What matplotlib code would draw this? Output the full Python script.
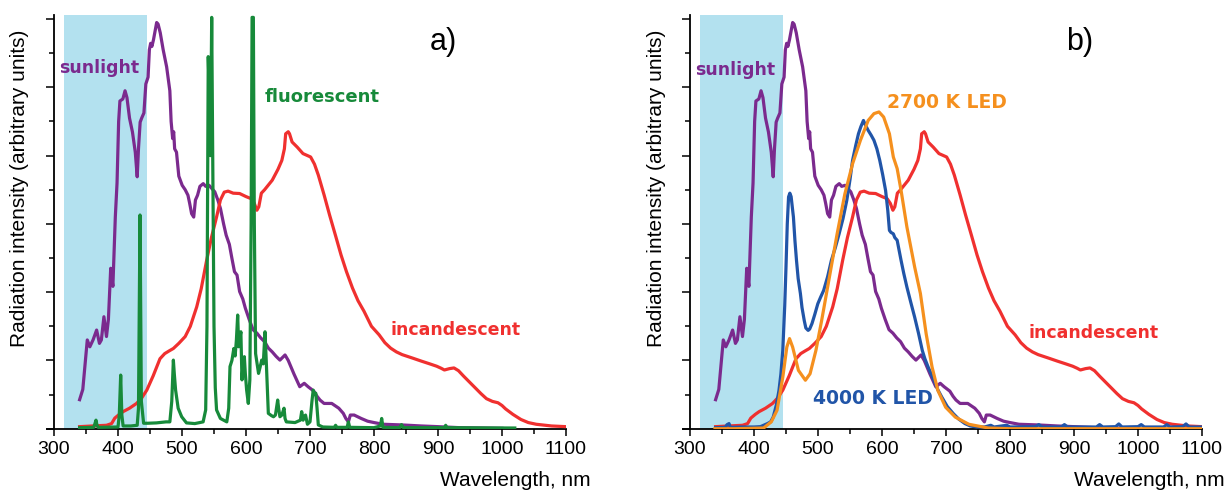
import matplotlib
matplotlib.use("Agg")
import matplotlib.pyplot as plt
from matplotlib.ticker import MultipleLocator

# ---------------- data ----------------
sun_nm = [340, 345, 352, 356, 361, 366.6, 371, 374, 378, 382, 385, 388.6, 392, 395.8, 398.5, 401, 403,
          407.6, 411, 414, 418, 422.6, 427, 430, 432, 434.6, 437, 440.5, 443.5, 447, 449, 451, 453,
          455.5, 460.4, 462.7, 466, 470.6, 476, 481, 483, 485.4, 487, 488.5, 491.4, 495, 500.3, 505,
          509.3, 512, 515, 518.3, 521, 524.3, 528, 533.2, 537, 542.2, 546, 551.2, 556, 560.1, 565,
          569, 574, 578, 582, 586, 590, 595, 599, 605, 611, 617, 623, 629, 635, 641, 647, 653, 661,
          666, 675, 684, 691, 697, 706, 711, 715.6, 722, 734, 745, 752, 756, 760, 763, 769, 780, 790,
          800, 814, 844, 874, 900, 934, 1000]
sun_val = [0.85, 1.15, 2.6, 2.4, 2.6, 2.89, 2.5, 2.6, 3.28, 2.7, 3.2, 4.7, 4.17, 6.2, 7.2, 9.0, 9.6,
           9.66, 9.9, 9.7, 9.1, 8.69, 8.1, 7.38, 8.2, 8.98, 9.1, 9.25, 10.1, 10.3, 11.1, 11.29, 11.2,
           11.4, 11.9, 11.85, 11.6, 11.1, 10.6, 9.9, 9.0, 8.5, 8.7, 8.2, 8.1, 7.4, 7.13, 7.0,
           6.84, 6.6, 6.3, 6.2, 6.7, 6.84, 7.1, 7.18, 7.1, 7.13, 7.05, 6.94, 6.7, 6.45, 6.0,
           5.67, 5.4, 4.99, 4.6, 4.5, 4.02, 3.8, 3.53, 3.2, 2.9, 2.8, 2.66, 2.55, 2.36, 2.25, 2.12, 2.01, 2.16,
           2.0, 1.6, 1.23, 1.33, 1.23, 1.1, 0.95, 0.84, 0.74, 0.74, 0.6, 0.45, 0.3, 0.2, 0.4, 0.4, 0.3, 0.22,
           0.18, 0.13, 0.11, 0.08, 0.06, 0.03, 0.01]

inc_nm = [340, 360, 382, 390, 395, 402, 408, 418, 429, 437, 445, 455, 465.6, 473, 480, 486.5, 495, 505,
          513, 523, 530, 538.6, 546, 554, 560, 566, 572, 580, 590, 600, 608, 613, 617, 620, 624, 629,
          641, 650, 656, 660, 662, 666, 668, 672, 680, 689, 701, 707, 713, 722, 730.6, 740, 748.5, 757,
          766.4, 775, 784.4, 796, 808, 817, 826, 835, 844, 860, 874, 887, 898, 905, 910, 918, 925, 932,
          940, 949, 958, 967, 975.7, 985, 993.7, 1000, 1005.6, 1017, 1029.6, 1041, 1053.5, 1077.4, 1100]
inc_val = [0.06, 0.08, 0.1, 0.15, 0.31, 0.42, 0.5, 0.6, 0.74, 0.9, 1.13, 1.55, 2.05, 2.2, 2.28, 2.35,
           2.5, 2.7, 3.0, 3.57, 4.1, 4.94, 5.6, 6.2, 6.7, 6.93, 6.96, 6.9, 6.89, 6.8, 6.74, 6.6, 6.4,
           6.5, 6.9, 7.0, 7.28, 7.6, 7.86, 8.2, 8.64, 8.7, 8.64, 8.4, 8.25, 8.06, 7.96, 7.75, 7.43,
           6.85, 6.26, 5.65, 5.09, 4.6, 4.12, 3.75, 3.44, 3.0, 2.75, 2.52, 2.36, 2.25, 2.17, 2.07, 1.98,
           1.9, 1.83, 1.77, 1.72, 1.76, 1.78, 1.7, 1.54, 1.37, 1.2, 1.03, 0.88, 0.8, 0.76, 0.68, 0.58,
           0.42, 0.27, 0.18, 0.13, 0.08, 0.06]

flu_nm = [340, 362, 364, 365.6, 367, 369, 400, 402, 404.2, 406, 408, 420, 430, 432, 434.4, 436.5, 440,
          447, 460, 475, 481, 484, 486.5, 488, 490, 494, 499.5, 507, 520, 533, 537, 539, 541, 543,
          544.5, 546.4, 548, 550, 552, 554, 560, 570, 573, 575, 578, 581, 583, 585, 587, 588.6, 590,
          592, 593.7, 595, 597.4, 599, 601, 603.6, 606, 608, 609.5, 611.5, 613, 615, 618, 619.6, 622,
          624.5, 627, 629.7, 632, 634.9, 640, 643, 646, 649.5, 651, 653, 656, 659.4, 661, 663, 676.6,
          685, 687, 689.3, 691, 693, 696, 700, 703, 705, 707, 709, 711, 713, 720, 738, 740, 742, 758,
          760, 762, 800, 810, 812, 814, 840, 843, 846, 910, 912, 914, 1020]
flu_val = [0.03, 0.04, 0.15, 0.25, 0.12, 0.04, 0.05, 0.4, 1.57, 0.4, 0.08, 0.08, 0.1, 0.6, 6.26, 0.8,
           0.16, 0.16, 0.17, 0.2, 0.2, 0.8, 2.01, 1.6, 1.13, 0.6, 0.35, 0.17, 0.15, 0.2, 0.55, 3.0,
           10.9, 9.5, 8.0, 12.05, 8.0, 3.0, 1.2, 0.55, 0.3, 0.2, 0.6, 1.82, 2.0, 2.35, 2.13, 2.6, 3.33,
           2.4, 2.6, 2.84, 1.43, 1.8, 2.11, 1.6, 1.13, 0.74, 1.43, 6.0, 12.05, 12.05, 6.0, 2.2, 1.82,
           1.62, 1.8, 2.01, 1.9, 2.84, 1.82, 0.45, 0.38, 0.35, 0.4, 0.84, 0.6, 0.35, 0.4, 0.6, 0.3,
           0.2, 0.18, 0.25, 0.5, 0.25, 0.35, 0.4, 0.13, 0.2, 0.8, 1.13, 1.0, 1.04, 0.6, 0.11, 0.05,
           0.04, 0.1, 0.04, 0.04, 0.2, 0.04, 0.03, 0.08, 0.3, 0.04, 0.03, 0.12, 0.03, 0.03, 0.1, 0.03,
           0.02]

led4000_nm = [340, 355, 358, 361, 363, 380, 400, 410, 415, 421, 426, 430, 435, 439, 442, 445, 448, 450,
              452, 454, 456, 458, 461.6, 464, 466.4, 469, 472.5, 475, 478.5, 481, 484.6, 487, 490.6, 495,
              499.7, 504, 508.8, 515, 520.9, 527, 533, 539, 545, 550, 554, 559, 563.2, 567, 571, 574,
              578.4, 583, 587.4, 592, 596.5, 601, 605.6, 609, 611.6, 614, 617.7, 620, 623.7, 627, 629.8,
              634, 638.9, 645, 651, 657, 663, 667, 672, 677, 681.2, 687, 693.3, 702, 711.5, 720, 729.6,
              738, 747.8, 760, 770, 775, 795, 800, 840, 845, 850, 880, 885, 890, 935, 940, 945, 965, 970,
              975, 1000, 1005, 1010, 1040, 1045, 1050, 1070, 1075, 1080, 1100]
led4000_val = [0.03, 0.04, 0.12, 0.15, 0.04, 0.05, 0.05, 0.06, 0.1, 0.15, 0.2, 0.34, 0.7, 1.12, 1.6, 2.3,
               3.6, 4.74, 6.0, 6.79, 6.9, 6.8, 6.2, 5.5, 4.93, 4.4, 3.96, 3.55, 3.17, 2.95, 2.88, 2.92,
               3.08, 3.35, 3.66, 3.85, 4.05, 4.45, 4.93, 5.3, 5.71, 6.15, 6.69, 7.3, 7.86, 8.3, 8.64,
               8.85, 9.03, 8.9, 8.74, 8.6, 8.45, 8.2, 7.86, 7.45, 6.98, 6.4, 5.81, 5.75, 5.71, 5.6, 5.52,
               5.2, 4.93, 4.55, 4.15, 3.7, 3.27, 2.8, 2.29, 2.05, 1.81, 1.6, 1.42, 1.15, 0.93, 0.65,
               0.44, 0.28, 0.15, 0.08, 0.05, 0.05, 0.1, 0.05, 0.1, 0.05, 0.06, 0.12, 0.05, 0.05, 0.12,
               0.05, 0.05, 0.12, 0.05, 0.06, 0.14, 0.05, 0.06, 0.12, 0.05, 0.05, 0.12, 0.05, 0.06, 0.14,
               0.05, 0.05]

led2700_nm = [339, 370, 415, 427, 436, 445, 451.3, 455.5, 460.4, 469.4, 480.3, 487.6, 496.7, 505.7,
              517.8, 529.9, 542, 554, 566.3, 578.4, 587.4, 595.3, 602.6, 611.6, 617.7, 623.7, 629.8,
              638.9, 651, 660, 669, 678.2, 687.3, 699.4, 714.5, 735.7, 766, 800, 1100]
led2700_val = [0.0, 0.0, 0.02, 0.2, 0.54, 1.51, 2.39, 2.64, 2.39, 1.71, 1.42, 1.61, 2.29, 3.17, 4.44,
               5.71, 6.88, 7.76, 8.45, 9.03, 9.23, 9.28, 9.13, 8.64, 7.96, 7.62, 6.98, 5.91, 4.74,
               3.96, 2.78, 1.81, 1.12, 0.63, 0.34, 0.13, 0.02, 0.0, 0.0]

x_ticks = [300, 400, 500, 600, 700, 800, 900, 1000, 1100]
x_tick_labels = ["300", "400", "500", "600", "700", "800", "900", "1000", "1100"]
uv_band = (316, 445)

# ---------------- style ----------------
C_SUN = "#7B2A8E"
C_INC = "#F0302F"
C_FLU = "#178A3A"
C_LED27 = "#F5901E"
C_LED40 = "#2155A8"
C_BAND = "#B3E1EF"
LW = 2.3
TICKFONT = "Liberation Sans"
ANNFONT = "DejaVu Sans"

W, H = 1227, 490
fig = plt.figure(figsize=(W / 100, H / 100), dpi=100)

px = 0.64  # pixels per nm
def make_axes(left_px):
    ax_left = left_px - 11 * px
    ax = fig.add_axes([ax_left / W, (H - 428.7) / H, 811 * px / W, (428.7 - 15) / H])
    ax.set_xlim(289, 1100)
    ax.set_ylim(0, 12.12)
    ax.spines["top"].set_visible(False)
    ax.spines["right"].set_visible(False)
    ax.spines["left"].set_position(("data", 300))
    ax.spines["left"].set_linewidth(1.3)
    ax.spines["bottom"].set_linewidth(1.3)
    ax.set_xticks(x_ticks)
    ax.set_xticklabels(x_tick_labels, fontfamily=TICKFONT, fontsize=14)
    ax.xaxis.set_minor_locator(MultipleLocator(50))
    ax.yaxis.set_major_locator(MultipleLocator(2))
    ax.yaxis.set_minor_locator(MultipleLocator(1))
    ax.set_yticklabels([])
    ax.tick_params(axis="x", which="major", length=5, width=1.1, pad=4, direction="out")
    ax.tick_params(axis="x", which="minor", length=3.5, width=1.1, direction="out")
    ax.tick_params(axis="y", which="major", length=5.5, width=1.1, direction="out")
    ax.tick_params(axis="y", which="minor", length=3.5, width=1.1, direction="out")
    ax.axvspan(uv_band[0], uv_band[1], ymin=0, ymax=1, color=C_BAND, lw=0, zorder=0)
    ax.patch.set_alpha(0)
    return ax

axa = make_axes(54)
axb = make_axes(690)

# panel a
axa.plot(sun_nm, sun_val, color=C_SUN, lw=LW, zorder=3)
axa.plot(inc_nm, inc_val, color=C_INC, lw=LW, zorder=4)
axa.plot(flu_nm, flu_val, color=C_FLU, lw=LW, zorder=5)

# panel b
axb.plot(sun_nm, sun_val, color=C_SUN, lw=LW, zorder=3)
axb.plot(inc_nm, inc_val, color=C_INC, lw=LW, zorder=4)
axb.plot(led4000_nm, led4000_val, color=C_LED40, lw=LW, zorder=5)
axb.plot(led2700_nm, led2700_val, color=C_LED27, lw=LW, zorder=6)

def label(ax, x_px, y_px, text, color, size, ha="center"):
    fig.text(x_px / W, 1 - y_px / H, text, color=color, fontsize=size, fontweight="bold",
             fontfamily=ANNFONT, ha=ha, va="center")

label(axa, 99, 68, "sunlight", C_SUN, 12.5)
label(axa, 322, 97, "fluorescent", C_FLU, 13)
label(axa, 456, 330, "incandescent", C_INC, 12.5)
label(axb, 735, 70, "sunlight", C_SUN, 12.5)
label(axb, 947, 103, "2700 K LED", C_LED27, 13.5)
label(axb, 1094, 333, "incandescent", C_INC, 12.5)
label(axb, 873, 398, "4000 K LED", C_LED40, 13.5)

# panel letters
fig.text(443 / W, 1 - 42 / H, "a)", fontsize=22, fontfamily=TICKFONT, ha="center", va="center")
fig.text(1080 / W, 1 - 42 / H, "b)", fontsize=22, fontfamily=TICKFONT, ha="center", va="center")

# axis titles
for xl in (20, 656):
    fig.text(xl / W, 1 - 188 / H, "Radiation intensity (arbitrary units)", rotation=90,
             fontsize=15, fontfamily=TICKFONT, ha="center", va="center")
fig.text(591 / W, 1 - 480 / H, "Wavelength, nm", fontsize=15, fontfamily=TICKFONT,
         ha="right", va="center")
fig.text(1225 / W, 1 - 480 / H, "Wavelength, nm", fontsize=15, fontfamily=TICKFONT,
         ha="right", va="center")

fig.savefig("out.png", dpi=100)
